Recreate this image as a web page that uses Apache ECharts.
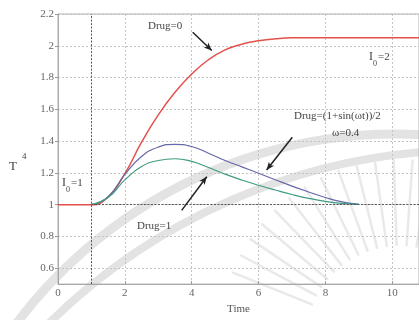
<!DOCTYPE html>
<html>
<head>
<meta charset="utf-8">
<script src="https://cdn.jsdelivr.net/npm/echarts@6/dist/echarts.min.js"></script>
<style>
  html, body { margin: 0; padding: 0; background: #fff; }
  #chart { width: 419px; height: 320px; }
</style>
</head>
<body>
<div id="chart"></div>
<script>
// Time courses of T^4 for three drug schedules
const redTime   = [0, 0.5, 1, 1.5, 2, 2.5, 3, 3.5, 4, 4.5, 5, 5.5, 6, 6.5, 7, 7.5, 8, 8.5, 9, 9.5, 10, 10.5, 10.8];
const drug0     = [1, 1, 1, 1.048, 1.195, 1.393, 1.565, 1.707, 1.822, 1.912, 1.974, 2.01, 2.031, 2.044, 2.05, 2.05, 2.05, 2.05, 2.05, 2.05, 2.05, 2.05, 2.05];

const drugTime  = [1, 1.5, 2, 2.5, 3, 3.5, 4, 4.5, 5, 5.5, 6, 6.5, 7, 7.5, 8, 8.5, 9];
const drugSin   = [1, 1.05, 1.19, 1.303, 1.362, 1.38, 1.366, 1.324, 1.278, 1.238, 1.198, 1.157, 1.117, 1.08, 1.045, 1.018, 1.003];
const drug1     = [1, 1.045, 1.156, 1.24, 1.278, 1.289, 1.272, 1.234, 1.192, 1.155, 1.122, 1.092, 1.064, 1.04, 1.021, 1.008, 1.001];

const yTicks = [0.6, 0.8, 1, 1.2, 1.4, 1.6, 1.8, 2, 2.2];

const serif = "'Liberation Serif', 'DejaVu Serif', serif";
const pairs = (xs, ys) => xs.map((x, i) => [x, ys[i]]);

const chart = echarts.init(document.getElementById('chart'));

const gridLine = { show: true, lineStyle: { color: '#c4c4c4', type: [2, 2], width: 1 } };
const curve = { type: 'line', showSymbol: false, smooth: 0.5 };

// faint seal in the background: two arcs and a fan of rays
const seal = [
  { type: 'arc', z: -1, silent: true, shape: { cx: 396, cy: 609, r: 475, startAngle: -2.56, endAngle: -1.45 },
    style: { stroke: '#e3e3e3', lineWidth: 9, fill: null } },
  { type: 'arc', z: -1, silent: true, shape: { cx: 472, cy: 753, r: 603, startAngle: -2.42, endAngle: -1.55 },
    style: { stroke: '#e3e3e3', lineWidth: 8, fill: null } }
];
for (let a = -158; a <= -78; a += 6) {
  const t = a * Math.PI / 180;
  seal.push({
    type: 'line', z: -1, silent: true,
    shape: { x1: 400 + 95 * Math.cos(t), y1: 340 + 95 * Math.sin(t), x2: 400 + 180 * Math.cos(t), y2: 340 + 180 * Math.sin(t) },
    style: { stroke: '#e9e9e9', lineWidth: 2.5, lineCap: 'round' }
  });
}

chart.setOption({
  animation: false,
  grid: { left: 58, right: 0, top: 14, bottom: 29, show: true, borderColor: '#b0b0b0', borderWidth: 1 },
  xAxis: {
    type: 'value', min: 0, max: 10.8, interval: 2,
    name: 'Time', nameLocation: 'middle', nameGap: 16,
    nameTextStyle: { fontFamily: serif, fontSize: 11, color: '#555' },
    axisLine: { lineStyle: { color: '#a8a8a8' } },
    axisTick: { inside: true, length: 3, lineStyle: { color: '#999' } },
    axisLabel: { fontFamily: serif, fontSize: 11, color: '#666', margin: 4, showMaxLabel: false },
    splitLine: gridLine
  },
  yAxis: {
    type: 'value', min: 0.5, max: 2.2,
    axisLine: { lineStyle: { color: '#a8a8a8' } },
    axisTick: { customValues: yTicks, length: 3, lineStyle: { color: '#999' } },
    axisLabel: { customValues: yTicks, fontFamily: serif, fontSize: 11, color: '#666', margin: 4 },
    splitLine: gridLine
  },
  series: [
    Object.assign({}, curve, {
      data: pairs(redTime, drug0),
      lineStyle: { color: '#e4514c', width: 1.5 }, z: 3,
      markLine: {
        silent: true, symbol: 'none', label: { show: false },
        lineStyle: { color: '#555', type: [2, 1.5], width: 1 },
        data: [
          { xAxis: 1 },
          [{ coord: [1, 1] }, { coord: [10.8, 1] }]
        ]
      }
    }),
    Object.assign({}, curve, {
      data: pairs(drugTime, drugSin),
      lineStyle: { color: '#6668a8', width: 1.2 }, z: 4
    }),
    Object.assign({}, curve, {
      data: pairs(drugTime, drug1),
      lineStyle: { color: '#3f9c82', width: 1.2 }, z: 4,
      markLine: {
        silent: true, symbol: ['none', 'arrow'], symbolSize: [5, 8], label: { show: false },
        lineStyle: { color: '#222', type: 'solid', width: 1.5 },
        data: [
          [{ coord: [4.03, 2.085] }, { coord: [4.6, 1.97] }],
          [{ coord: [7.01, 1.424] }, { coord: [6.24, 1.218] }],
          [{ coord: [3.70, 0.964] }, { coord: [4.45, 1.176] }]
        ]
      }
    })
  ],
  graphic: seal.concat([
    { type: 'text', left: 148, top: 21, style: { text: 'Drug=0', font: '11px ' + serif, fill: '#444' } },
    { type: 'text', left: 369, top: 51, style: { text: 'I', font: '12px ' + serif, fill: '#444' } },
    { type: 'text', left: 373, top: 60, style: { text: '0', font: '8px ' + serif, fill: '#444' } },
    { type: 'text', left: 378, top: 52, style: { text: '=2', font: '11px ' + serif, fill: '#444' } },
    { type: 'text', left: 294, top: 111, style: { text: 'Drug=(1+sin(ωt))/2', font: '11px ' + serif, fill: '#444' } },
    { type: 'text', left: 332, top: 128, style: { text: 'ω=0.4', font: '11px ' + serif, fill: '#444' } },
    { type: 'text', left: 137, top: 221, style: { text: 'Drug=1', font: '11px ' + serif, fill: '#444' } },
    { type: 'text', left: 62, top: 177, style: { text: 'I', font: '12px ' + serif, fill: '#444' } },
    { type: 'text', left: 66, top: 186, style: { text: '0', font: '8px ' + serif, fill: '#444' } },
    { type: 'text', left: 71, top: 178, style: { text: '=1', font: '11px ' + serif, fill: '#444' } },
    { type: 'text', left: 9, top: 160, style: { text: 'T', font: '13px ' + serif, fill: '#444' } },
    { type: 'text', left: 22, top: 152, style: { text: '4', font: '9px ' + serif, fill: '#444' } }
  ])
});
</script>
</body>
</html>
